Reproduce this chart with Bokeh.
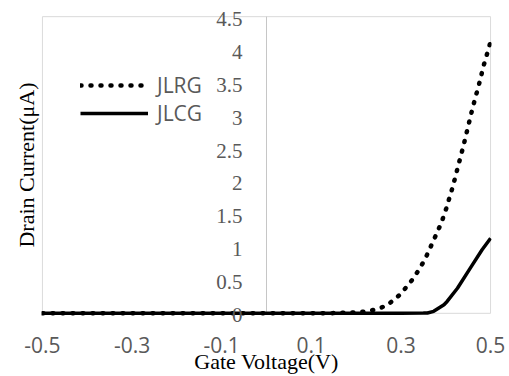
from bokeh.plotting import figure
from bokeh.models import LabelSet, ColumnDataSource, FixedTicker, Legend, LegendItem
from bokeh.embed import file_html
from bokeh.resources import INLINE

# ---- data ----
jlrg_v = [-0.5, -0.3, -0.1, 0.1, 0.15, 0.2, 0.225, 0.247, 0.269, 0.299, 0.329, 0.353, 0.373,
          0.39, 0.401, 0.416, 0.427, 0.439, 0.45, 0.46, 0.474, 0.485, 0.5]
jlrg_i = [0.0, 0.0, 0.0, 0.0, 0.003, 0.015, 0.03, 0.065, 0.12, 0.29, 0.54, 0.81, 1.11,
          1.37, 1.59, 1.93, 2.22, 2.53, 2.84, 3.12, 3.47, 3.77, 4.12]
jlcg_v = [-0.5, -0.3, -0.1, 0.1, 0.3, 0.35, 0.359, 0.373, 0.396, 0.403, 0.426, 0.455, 0.481, 0.5]
jlcg_i = [0.0, 0.0, 0.0, 0.0, 0.002, 0.003, 0.005, 0.03, 0.13, 0.18, 0.38, 0.69, 0.965, 1.14]

x_ticks = [-0.5, -0.3, -0.1, 0.1, 0.3, 0.5]
x_tick_labels = ["-0.5", "-0.3", "-0.1", "0.1", "0.3", "0.5"]
y_ticks = [0, 0.5, 1, 1.5, 2, 2.5, 3, 3.5, 4, 4.5]
y_tick_labels = ["0", "0.5", "1", "1.5", "2", "2.5", "3", "3.5", "4", "4.5"]

GREY = "#595959"
TICK_FONT = "Open Sans"
TITLE_FONT = "Liberation Serif"

x_lo, x_hi = x_ticks[0], x_ticks[-1]
y_lo, y_hi = y_ticks[0], y_ticks[-1]

# ranges padded a little so the tick labels at 0 and 4.5 are not clipped;
# the chart border is drawn at the real limits
p = figure(width=509, height=376, x_range=(x_lo - 0.002, x_hi + 0.002), y_range=(y_lo - 0.2, y_hi + 0.2),
           output_backend="svg", toolbar_location=None,
           min_border_left=41, min_border_right=18, min_border_top=3, min_border_bottom=50)
p.background_fill_color = "white"
p.border_fill_color = "white"
p.outline_line_color = None
p.grid.visible = False

# x axis
p.xaxis.ticker = FixedTicker(ticks=x_ticks)
p.xaxis.major_label_overrides = {t: l for t, l in zip(x_ticks, x_tick_labels)}
p.xaxis.axis_line_color = None
p.xaxis.major_tick_line_color = None
p.xaxis.minor_tick_line_color = None
p.xaxis.major_label_standoff = 4
p.xaxis.major_label_text_font = TICK_FONT
p.xaxis.major_label_text_font_size = "21px"
p.xaxis.major_label_text_color = GREY
p.xaxis.axis_label = "Gate Voltage(V)"
p.xaxis.axis_label_text_font = TITLE_FONT
p.xaxis.axis_label_text_font_size = "22px"
p.xaxis.axis_label_text_font_style = "normal"
p.xaxis.axis_label_text_color = "black"
p.xaxis.axis_label_standoff = -7

# y axis (only title; ticks drawn at x=0)
p.yaxis.ticker = FixedTicker(ticks=[])
p.yaxis.axis_line_color = None
p.yaxis.major_tick_line_color = None
p.yaxis.minor_tick_line_color = None
p.yaxis.major_label_text_font_size = "0px"
p.yaxis.axis_label = "Drain Current(μA)"
p.yaxis.axis_label_text_font = TITLE_FONT
p.yaxis.axis_label_text_font_size = "22px"
p.yaxis.axis_label_text_font_style = "normal"
p.yaxis.axis_label_text_color = "black"
p.yaxis.axis_label_standoff = 3

# chart border and the vertical axis line at x = 0
p.quad(left=[x_lo], right=[x_hi], bottom=[y_lo], top=[y_hi], fill_color=None,
       line_color="#d9d9d9", line_width=1)
p.segment(x0=[0], y0=[y_lo], x1=[0], y1=[y_hi], line_color="#c6c6c6", line_width=1)

# y tick labels next to the x=0 axis
ysrc = ColumnDataSource(dict(x=[0] * len(y_ticks), y=y_ticks, t=y_tick_labels))
p.add_layout(LabelSet(x="x", y="y", text="t", source=ysrc, x_offset=-24, y_offset=-2,
                      text_align="right", text_baseline="middle",
                      text_font=TICK_FONT, text_font_size="21px", text_color=GREY))

r_rg = p.line(jlrg_v, jlrg_i, line_color="black", line_width=4.5, line_dash="1 9", line_cap="round")
r_cg = p.line(jlcg_v, jlcg_i, line_color="black", line_width=3.5)

legend = Legend(items=[LegendItem(label="JLRG", renderers=[r_rg]),
                       LegendItem(label="JLCG", renderers=[r_cg])],
                location=(39, 199), padding=0, margin=0, spacing=0,
                glyph_width=68, glyph_height=20, label_height=20, label_standoff=9,
                label_text_font=TICK_FONT, label_text_font_size="21px", label_text_color=GREY,
                border_line_color=None, background_fill_alpha=0)
p.add_layout(legend)

open("out.html", "w").write(file_html(p, INLINE))
